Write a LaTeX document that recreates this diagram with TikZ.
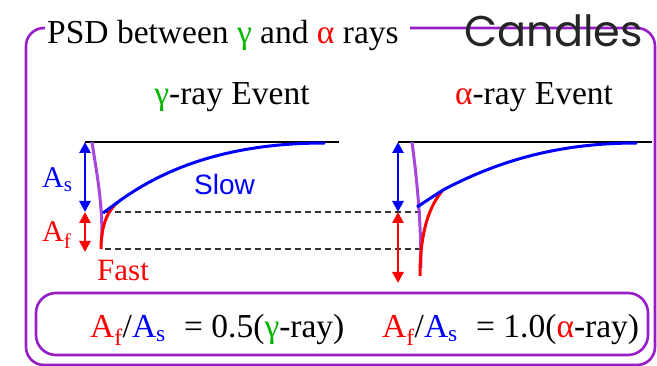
\documentclass[tikz,border=0pt]{standalone}
\usepackage{fontspec}
\setmainfont{Liberation Serif}
\setsansfont{Liberation Sans}
\newfontfamily\candlesfont{Poppins}
\usetikzlibrary{arrows.meta}
\definecolor{boxpurple}{RGB}{150,30,200}
\definecolor{tracepurple}{RGB}{165,70,220}
\definecolor{gammagreen}{RGB}{0,180,0}

\begin{document}
\begin{tikzpicture}[x=1pt, y=-1pt, >={Triangle[length=11pt,width=11pt]},
    label/.style={inner sep=0pt, font=\fontsize{33.5}{36}\selectfont},
    frame/.style={boxpurple, line width=2.6pt},
    amp/.style={<->, line width=2.8pt},
    trace/.style={line width=3pt},
    level/.style={dashed, line width=1.3pt, dash pattern=on 6pt off 4pt, black!80}]
    \useasboundingbox (0,0) rectangle (657,366);

    \draw[frame, rounded corners=18pt] (45,28) -- (26,28) -- (26,365) -- (655,365) -- (655,28) -- (410,28);
    \draw[frame, rounded corners=20pt] (36,293) rectangle (648,355);

    \node (Title) [label, anchor=base west] at (47,44) {PSD between \textcolor{gammagreen}{γ} and \textcolor{red}{α} rays};
    \node (Candles) [inner sep=0pt, anchor=base east, text=black!85, font=\candlesfont\fontsize{43}{48}\selectfont] at (643,47) {Candles};

    \node (GammaHead) [label, anchor=base] at (232,105) {\textcolor{gammagreen}{γ}-ray Event};
    \node (AlphaHead) [label, anchor=base] at (534,105) {\textcolor{red}{α}-ray Event};

    \coordinate (GammaTop) at (85,142);
    \coordinate (GammaSlow) at (85,212);
    \coordinate (GammaFast) at (85,252);
    \coordinate (AlphaTop) at (398,142);
    \coordinate (AlphaSlow) at (398,212);
    \coordinate (AlphaFast) at (398,283);

    \draw[level] (105,212) coordinate (SlowLevel) -- (421,212) coordinate (SlowEnd);
    \draw[level] (105,249) coordinate (FastLevel) -- (421,249) coordinate (FastEnd);

    \draw[line width=2.4pt] (GammaTop) -- (339,142);
    \draw[line width=2.4pt] (AlphaTop) -- (652,142);

    \draw[trace, tracepurple] (92,142) .. controls (97,175) and (102,200) .. (102,237);
    \draw[trace, red] (101,249) .. controls (101,225) and (108,210) .. (118,202);
    \draw[trace, blue] (103,213) -- (118,202) .. controls (178,158) and (250,143) .. (325,143);

    \draw[trace, tracepurple] (412,142) .. controls (417,180) and (421,220) .. (421,268);
    \draw[trace, red] (420,276) .. controls (420,230) and (430,205) .. (443,190);
    \draw[trace, blue] (417,207) -- (443,190) .. controls (500,160) and (560,143) .. (637,143);

    \draw[amp, blue] (GammaTop) -- (GammaSlow);
    \draw[amp, red] (GammaSlow) -- (GammaFast);
    \draw[amp, blue] (AlphaTop) -- (AlphaSlow);
    \draw[amp, red] (AlphaSlow) -- (AlphaFast);

    \node (GammaAs) [label, anchor=base west, text=blue, font=\fontsize{30}{33}\selectfont] at (42,188) {A\textsubscript{s}};
    \node (GammaAf) [label, anchor=base west, text=red, font=\fontsize{30}{33}\selectfont] at (42,242) {A\textsubscript{f}};
    \node (SlowText) [label, anchor=base west, text=blue, font=\sffamily\fontsize{28}{30}\selectfont] at (194,195) {Slow};
    \node (FastText) [label, anchor=base west, text=red, font=\fontsize{31}{34}\selectfont] at (97,281) {Fast};

    \node (GammaRatio) [label, anchor=base west] at (90,338) {\textcolor{red}{A\textsubscript{f}}/\textcolor{blue}{A\textsubscript{s}}\hspace{10pt} = 0.5(\textcolor{gammagreen}{γ}-ray)};
    \node (AlphaRatio) [label, anchor=base west] at (382,338) {\textcolor{red}{A\textsubscript{f}}/\textcolor{blue}{A\textsubscript{s}}\hspace{10pt} = 1.0(\textcolor{red}{α}-ray)};
\end{tikzpicture}
\end{document}
